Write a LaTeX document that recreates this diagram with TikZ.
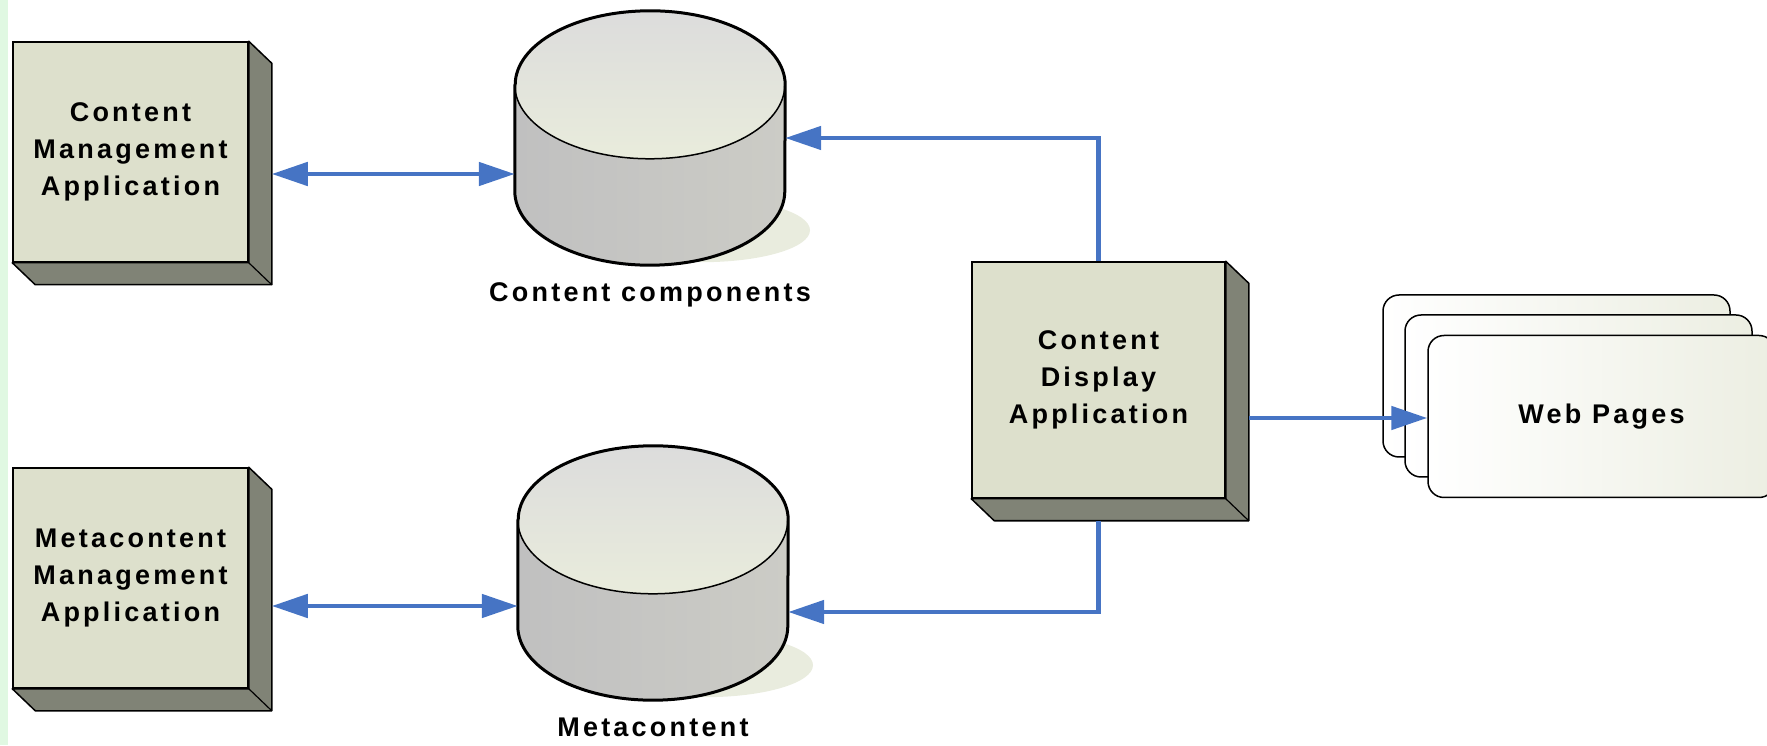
\documentclass[tikz,border=0pt]{standalone}
\usepackage{fontspec}
\newfontfamily\diagfont{Liberation Sans}[LetterSpace=12]
\usetikzlibrary{positioning, arrows.meta}

\definecolor{boxface}{RGB}{221,224,204}
\definecolor{boxside}{RGB}{128,131,118}
\definecolor{flowblue}{RGB}{70,116,196}
\definecolor{stripgreen}{RGB}{224,248,226}
\definecolor{puddle}{RGB}{233,236,222}
\definecolor{cyltop}{RGB}{220,220,220}
\definecolor{cylrim}{RGB}{233,236,220}
\definecolor{cylleft}{RGB}{192,192,192}
\definecolor{cylmid}{RGB}{216,218,209}
\definecolor{cylright}{RGB}{204,204,198}
\definecolor{pagetint}{RGB}{236,238,226}

\begin{document}
\begin{tikzpicture}[x=1pt, y=1pt,
  txt/.style={font=\diagfont\bfseries\fontsize{27}{37}\selectfont, align=center},
  appbox/.style={txt, draw, line width=1.5pt, fill=boxface, minimum width=235pt, minimum height=220pt},
  store/.style={minimum width=270pt, minimum height=254pt, inner sep=0pt},
  page/.style={draw, line width=1.5pt, rounded corners=16pt, minimum width=347pt, minimum height=162pt, left color=white, right color=pagetint},
  flow/.style={draw=flowblue, line width=4.8pt},
  >={Triangle[length=36pt, width=23pt]}]
\useasboundingbox (0,0) rectangle (1767,745);
\fill[stripgreen] (0,0) rectangle (8,745);

\node[appbox] (cma) at (130.5,593) {Content\\Management\\Application};
\node[appbox] (mma) at (130.5,167) {Metacontent\\Management\\Application};
\node[appbox, minimum width=253pt, minimum height=236pt] (cda) at (1098.5,365) {Content\\Display\\Application};
\foreach \b in {cma,mma,cda}{
  \filldraw[fill=boxside, line width=1.5pt, line join=round] (\b.north east) -- ([shift={(23,-22)}]\b.north east) -- ([shift={(23,-22)}]\b.south east) -- ([shift={(23,-22)}]\b.south west) -- (\b.south west) -- (\b.south east) -- cycle;
  \draw[line width=1.2pt] (\b.south east) -- ([shift={(23,-22)}]\b.south east);
}

\node[store] (cc) at (650,607) {};
\node[store] (mc) at (653,172) {};
\foreach \s in {cc,mc}{
  \fill[puddle] ([shift={(52,35)}]\s.south) ellipse [x radius=108, y radius=32];
  \shade[left color=cylleft, middle color=cylmid, right color=cylright] ([yshift=-74pt]\s.north west) -- ([yshift=74pt]\s.south west) arc[start angle=180, end angle=360, x radius=135, y radius=74] -- ([yshift=-74pt]\s.north east) arc[start angle=0, end angle=180, x radius=135, y radius=74] -- cycle;
  \shade[top color=cyltop, bottom color=cylrim] ([yshift=-74pt]\s.north) ellipse [x radius=135, y radius=74];
  \draw[line width=1.5pt] ([yshift=-74pt]\s.north west) arc[start angle=180, end angle=360, x radius=135, y radius=74];
  \draw[line width=3pt, line join=round] ([yshift=-74pt]\s.north west) -- ([yshift=74pt]\s.south west) arc[start angle=180, end angle=360, x radius=135, y radius=74] -- ([yshift=-74pt]\s.north east) arc[start angle=0, end angle=180, x radius=135, y radius=74] -- cycle;
}
\node[txt, inner sep=0pt, below=17pt of cc] (cclbl) {Content components};
\node[txt, inner sep=0pt, below=18pt of mc] (mclbl) {Metacontent};

\node[page] (webback) at (1556.5,369) {};
\node[page] (webmid) at (1578.5,349) {};
\node[page, txt] (web) at (1601.5,328.5) {Web Pages};

\coordinate (cmaport) at ([shift={(23,-22)}]cma.east);
\coordinate (mmaport) at ([shift={(23,-28)}]mma.east);
\coordinate (cdaport) at ([shift={(23,-38)}]cda.east);
\coordinate (cdafoot) at ([yshift=-22pt]cda.south);

\draw[flow, <->] (cmaport) -- (cmaport -| cc.west);
\draw[flow, <->] (mmaport) -- (mmaport -| mc.west);
\draw[flow, ->] (cda.north) |- (cc.east);
\draw[flow, ->] (cdafoot) |- ([yshift=-39pt]mc.east);
\draw[flow, ->] (cdaport) -- (cdaport -| web.west);
\end{tikzpicture}
\end{document}
